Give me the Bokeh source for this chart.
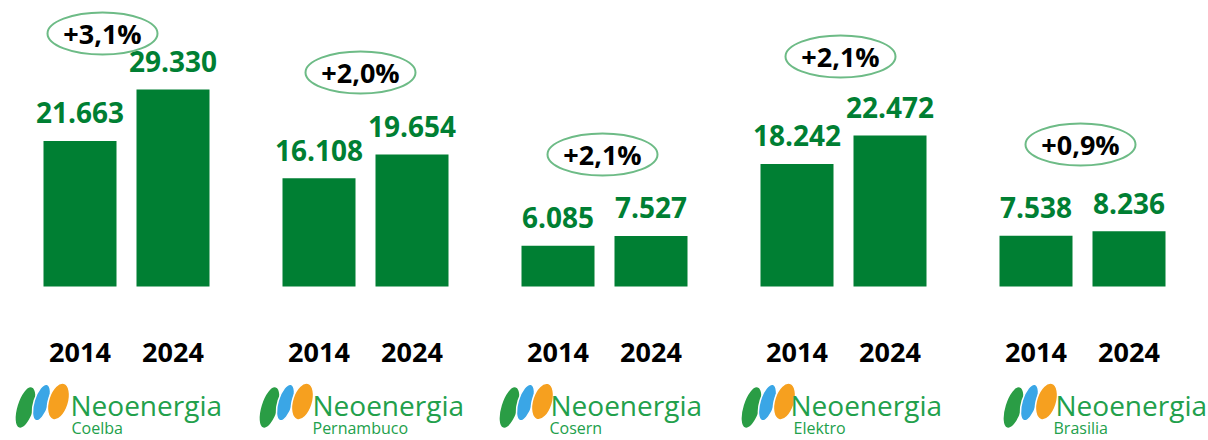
from bokeh.plotting import figure
from bokeh.models import Range1d, ColumnDataSource
from bokeh.core.properties import value
from bokeh.embed import file_html
from bokeh.resources import INLINE

# ---------------- data ----------------
companies = ["Coelba", "Pernambuco", "Cosern", "Elektro", "Brasilia"]
years = ["2014", "2024"]
v2014 = [21663, 16108, 6085, 18242, 7538]
v2024 = [29330, 19654, 7527, 22472, 8236]
growth = ["+3,1%", "+2,0%", "+2,1%", "+2,1%", "+0,9%"]
brand = "Neoenergia"

# ---------------- layout (reference pixel geometry) ----------------
W, H = 1208, 440
GX0, GPITCH = 126.0, 239.0          # group centre of first group, pitch (px)
BASE_PY = 286.0                      # baseline (px)
K = 197.0 / 29330.0                  # px per unit
BAR_OFF, BAR_W = 46.5, 73.0
ell_px = [(102, 33), (360, 72), (602, 154), (840, 56), (1080, 144)]
logo_left = [12, 256, 496, 738, 1000]
text_left = [70, 312, 550, 790, 1055]
sub_left = [71, 312, 549, 793, 1053]
SHIFT = 10  # compensate text baseline rendering

def dx(px):  # px offset -> group units
    return px / GPITCH

def gx(px):  # absolute ref px -> x data
    return (px - GX0) / GPITCH

def gy(py):  # absolute ref py -> y data
    return (BASE_PY - py) / K

GREEN = "#007f33"
LOGO_GREEN = "#22a04b"

p = figure(width=W, height=H, output_backend="svg", toolbar_location=None,
           x_axis_location=None, y_axis_location=None, min_border=0,
           x_range=Range1d(gx(0), gx(W)), y_range=Range1d(gy(H), gy(0)))
p.outline_line_color = None
p.grid.visible = False
p.background_fill_color = "white"
p.border_fill_color = "white"

idx = list(range(len(companies)))
fmt = lambda v: f"{v:,}".replace(",", ".")

src = ColumnDataSource(dict(
    x1=[i - dx(BAR_OFF) for i in idx], x2=[i + dx(BAR_OFF) for i in idx],
    v1=v2014, v2=v2024,
    l1=[fmt(v) for v in v2014], l2=[fmt(v) for v in v2024],
    zero=[0] * len(idx),
    y1=[years[0]] * len(idx), y2=[years[1]] * len(idx),
))

p.vbar(x="x1", top="v1", width=dx(BAR_W), source=src, color=GREEN, line_color=None)
p.vbar(x="x2", top="v2", width=dx(BAR_W), source=src, color=GREEN, line_color=None)

lab_kw = dict(text_align="center", text_baseline="alphabetic", text_color=GREEN,
              text_font=value("Open Sans"), text_font_style="bold", text_font_size="28px")
p.text(x="x1", y="v1", text="l1", source=src, y_offset=-18 - SHIFT, **lab_kw)
p.text(x="x2", y="v2", text="l2", source=src, y_offset=-18 - SHIFT, **lab_kw)

yr_kw = dict(text_align="center", text_baseline="alphabetic", text_color="black",
             text_font=value("Open Sans"), text_font_style="bold", text_font_size="27px")
p.text(x="x1", y="zero", text="y1", source=src, y_offset=76 - SHIFT, **yr_kw)
p.text(x="x2", y="zero", text="y2", source=src, y_offset=76 - SHIFT, **yr_kw)

# growth ellipses
ex = [gx(a) for a, b in ell_px]
ey = [gy(b) for a, b in ell_px]
p.ellipse(x=ex, y=ey, width=110, height=42, width_units="screen", height_units="screen",
          fill_color="white", line_color="#6dbb86", line_width=2)
p.text(x=ex, y=ey, text=growth, text_align="center", text_baseline="middle",
       text_color="black", text_font=value("Open Sans"), text_font_style="bold",
       text_font_size="27px")

# logos
for i in idx:
    L = logo_left[i]
    p.ellipse(x=[gx(L + 13)], y=[gy(407)], width=16, height=42, angle=-0.3,
              width_units="screen", height_units="screen", fill_color="#2a9d45", line_color=None)
    p.ellipse(x=[gx(L + 29)], y=[gy(402)], width=15, height=38, angle=-0.3,
              width_units="screen", height_units="screen", fill_color="#3aa6e6", line_color="white", line_width=1.5)
    p.ellipse(x=[gx(L + 46)], y=[gy(401)], width=20, height=38, angle=-0.3,
              width_units="screen", height_units="screen", fill_color="#f6a01f", line_color="white", line_width=1.5)
    p.text(x=[gx(text_left[i])], y=[gy(0)], text=[brand], text_align="left",
           text_baseline="alphabetic", text_color=LOGO_GREEN, text_font=value("Open Sans"),
           text_font_size="28px", y_offset=414 - SHIFT)
    p.text(x=[gx(sub_left[i])], y=[gy(0)], text=[companies[i]], text_align="left",
           text_baseline="alphabetic", text_color=LOGO_GREEN, text_font=value("Open Sans"),
           text_font_size="16px", y_offset=437 - SHIFT)

open("out.html", "w").write(file_html(p, INLINE))
